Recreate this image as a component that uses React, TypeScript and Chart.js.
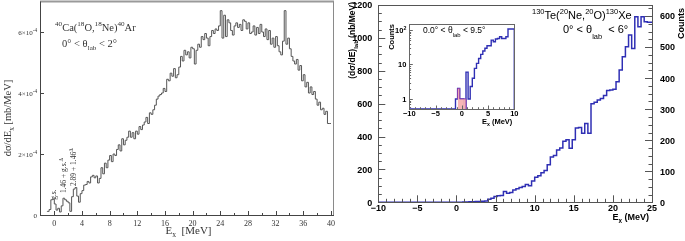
import React, { useEffect, useRef } from 'react';
import { Chart, registerables } from 'chart.js';

Chart.register(...registerables);

// ---------------- DATA ----------------
// Left panel: 40Ca(18O,18Ne)40Ar, values in units of 1e-4 mb/MeV, 0.25 MeV bins from -1 MeV
const leftBinStart = -1;
const leftBinWidth = 0.25;
const leftValues = [
  0.10, 0.12, 0.18, 0.50, 0.52, 0.36, 0.16, 0.22,
  0.10, 0.30, 0.55, 0.50, 0.45, 0.40, 0.12, 0.60,
  0.85, 0.90, 0.62, 0.42, 0.70, 0.80, 0.98, 1.00,
  1.10, 1.05, 1.25, 1.30, 1.22, 1.28, 1.05, 1.20,
  1.55, 1.35, 1.70, 1.55, 1.80, 1.95, 1.75, 2.00,
  1.95, 2.15, 2.30, 2.10, 2.50, 2.30, 2.45, 2.55,
  2.75, 2.55, 2.70, 2.50, 2.75, 2.65, 2.90, 2.80,
  2.95, 3.05, 3.20, 3.00, 3.35, 3.30, 3.45, 3.60,
  3.80, 3.90, 3.95, 4.00, 4.15, 4.05, 4.45, 4.40,
  4.65, 4.55, 4.80, 4.50, 4.60, 4.85, 5.20, 5.05,
  5.40, 5.25, 5.35, 5.15, 5.50, 5.45, 4.95, 5.40,
  5.60, 5.50, 5.85, 5.75, 5.95, 5.80, 5.55, 5.85,
  6.05, 5.95, 6.10, 6.05, 6.20, 6.70, 5.80, 6.55,
  5.85, 6.40, 6.30, 6.05, 5.90, 6.20, 6.30, 6.15,
  6.25, 6.05, 6.40, 6.35, 6.10, 6.30, 5.95, 6.00,
  6.20, 5.90, 6.15, 5.95, 6.25, 6.00, 5.85, 6.10,
  5.75, 6.05, 5.60, 5.80, 5.50, 5.85, 5.55, 5.35,
  5.25, 5.70, 6.70, 5.60, 5.80, 5.45, 5.20, 5.05,
  4.95, 5.10, 4.75, 4.90, 4.40, 4.60, 4.20, 4.35,
  4.00, 4.20, 3.95, 4.05, 3.80, 3.60, 3.70, 3.45,
  3.50, 3.30, 3.40, 3.00,
];
const leftXTicks = [0, 4, 8, 12, 16, 20, 24, 28, 32, 36, 40];
const leftYTicks = [0, 2, 4, 6];

// Right panel: 130Te(20Ne,20O)130Xe, nb/MeV, 0.4 MeV bins from -10 MeV
const rightBinStart = -10;
const rightBinWidth = 0.4;
const rightValues = [
  0, 0, 0, 0, 0, 0, 0, 0, 0, 0, 0, 0, 0, 0, 0, 0, 0, 0, 0, 0, 0, 0, 0, 0, 0,
  1, 1, 1, 2, 2, 4, 4, 5, 5, 6,
  8, 18, 24, 35, 40, 42, 66, 55, 60, 75,
  82, 90, 96, 108, 100, 130, 152, 162, 180, 193,
  228, 275, 285, 318, 330, 372, 380, 328, 380, 452,
  455, 420, 480, 420, 600, 608, 622, 632, 650, 680,
  683, 688, 733, 804, 885, 946, 1017, 936, 1128, 1067,
  1128, 1098, 1095,
];
const rightXTicks = [-10, -5, 0, 5, 10, 15, 20, 25];
const rightYTicks = [0, 200, 400, 600, 800, 1000, 1200];
const rightCountTicks = [0, 100, 200, 300, 400, 500, 600];

// Inset: counts, 0.4 MeV bins from -10 MeV
const insetBinStart = -10;
const insetBinWidth = 0.4;
const insetCounts = [
  0, 0, 0, 0, 0, 0, 0, 0, 0, 0, 0, 0, 0, 0, 0, 0, 0, 0, 0, 0, 0, 0, 0,
  1, 2, 1, 1, 0,
  6, 1, 2.3, 4, 7.7, 10.8, 15, 19.7, 24.6, 29.5, 35,
  35, 51, 46, 55, 57, 64, 57, 57, 64, 107, 107,
];
const insetGsStart = -0.8;
const insetGsCounts = [1, 2, 1, 1];
const insetXTicks = [-10, -5, 0, 5, 10];
const insetYTicks = [1, 10, 100];
const insetYTickLabels: [string, string][] = [['1', ''], ['10', ''], ['10', '2']];

// ---------------- HELPERS ----------------
const SERIF = '"Liberation Serif", "DejaVu Serif", serif';
const SANS = '"Liberation Sans", Arial, Helvetica, sans-serif';

function histPoints(start: number, width: number, values: number[], floor = 0, close = false) {
  const pts = values.map((v, i) => ({ x: start + i * width, y: Math.max(v, floor) }));
  pts.push({ x: start + values.length * width, y: Math.max(values[values.length - 1], floor) });
  if (close) pts.push({ x: start + values.length * width, y: floor });
  return pts;
}

type Seg = [string, ('sup' | 'sub' | '')?];
interface RichOpt {
  size: number;
  family: string;
  weight?: string;
  align?: 'left' | 'center' | 'right';
  color?: string;
  subDy?: number;
  supDy?: number;
  scale?: number;
}
function drawRich(ctx: CanvasRenderingContext2D, segs: Seg[], x: number, y: number, o: RichOpt) {
  const w = o.weight || 'normal';
  const sc = o.scale ?? 0.7;
  const fontFor = (k?: string) => `${w} ${k ? o.size * sc : o.size}px ${o.family}`;
  let total = 0;
  for (const [t, k] of segs) {
    ctx.font = fontFor(k);
    total += ctx.measureText(t).width;
  }
  const align = o.align || 'left';
  let cx = align === 'center' ? x - total / 2 : align === 'right' ? x - total : x;
  ctx.fillStyle = o.color || '#000';
  ctx.textAlign = 'left';
  ctx.textBaseline = 'alphabetic';
  for (const [t, k] of segs) {
    ctx.font = fontFor(k);
    const dy = k === 'sup' ? -(o.supDy ?? o.size * 0.42) : k === 'sub' ? (o.subDy ?? o.size * 0.3) : 0;
    ctx.fillText(t, cx, y + dy);
    cx += ctx.measureText(t).width;
  }
}
function drawRichRot(ctx: CanvasRenderingContext2D, segs: Seg[], x: number, y: number, o: RichOpt) {
  ctx.save();
  ctx.translate(x, y);
  ctx.rotate(-Math.PI / 2);
  drawRich(ctx, segs, 0, 0, o);
  ctx.restore();
}
function line(ctx: CanvasRenderingContext2D, x1: number, y1: number, x2: number, y2: number) {
  ctx.beginPath();
  ctx.moveTo(x1, y1);
  ctx.lineTo(x2, y2);
  ctx.stroke();
}
const crisp = (v: number) => Math.round(v) + 0.5;

// ---------------- LEFT CHART ----------------
const leftDecor = {
  id: 'leftDecor',
  afterDraw(chart: any) {
    const { ctx, chartArea: a } = chart;
    const x = chart.scales.x;
    const y = chart.scales.y;
    ctx.save();
    // frame
    ctx.strokeStyle = '#9a9a9a';
    ctx.lineWidth = 2;
    line(ctx, a.left, a.top, a.right + 1, a.top);
    ctx.strokeStyle = '#8a8a8a';
    ctx.lineWidth = 1;
    line(ctx, crisp(a.right), a.top, crisp(a.right), a.bottom);
    ctx.strokeStyle = '#444';
    line(ctx, crisp(a.left), a.top, crisp(a.left), a.bottom + 1);
    line(ctx, a.left, crisp(a.bottom), a.right + 1, crisp(a.bottom));
    // ticks
    for (const v of leftXTicks) {
      const px = crisp(x.getPixelForValue(v));
      line(ctx, px, a.bottom, px, a.bottom - 4);
    }
    for (let v = 2; v < 40; v += 4) {
      const px = crisp(x.getPixelForValue(v));
      line(ctx, px, a.bottom, px, a.bottom - 2);
    }
    for (const v of leftYTicks) {
      const py = crisp(y.getPixelForValue(v));
      line(ctx, a.left, py, a.left + 4, py);
    }
    // tick labels
    const col = '#333';
    for (const v of leftXTicks) {
      drawRich(ctx, [[String(v)]], x.getPixelForValue(v), a.bottom + 10.5, { size: 8, family: SERIF, align: 'center', color: col });
    }
    for (const v of leftYTicks) {
      const py = y.getPixelForValue(v);
      const segs: Seg[] = v === 0 ? [['0']] : [[`${v}×10`], ['-4', 'sup']];
      drawRich(ctx, segs, a.left - 3, py + 2.5, { size: 7, family: SERIF, align: 'right', color: col, scale: 0.75 });
    }
    // axis titles
    drawRich(ctx, [['E'], ['x', 'sub'], ['  [MeV]']], (a.left + a.right) / 2 + 2, 234, { size: 11, family: SERIF, align: 'center', color: col });
    drawRichRot(ctx, [['dσ/dE'], ['x', 'sub'], [' [mb/MeV]']], 11, 118, { size: 10.5, family: SERIF, align: 'center', color: col });
    // reaction labels
    drawRich(ctx, [['40', 'sup'], ['Ca('], ['18', 'sup'], ['O,'], ['18', 'sup'], ['Ne)'], ['40', 'sup'], ['Ar']], 55, 30.5, { size: 10.5, family: SERIF, color: col, scale: 0.68 });
    drawRich(ctx, [['0° < θ'], ['lab', 'sub'], [' < 2°']], 62, 46.5, { size: 10.5, family: SERIF, color: col, scale: 0.68, subDy: 3 });
    // peak annotations
    drawRichRot(ctx, [['g.s.']], x.getPixelForValue(0.2), y.getPixelForValue(0.5), { size: 7.5, family: SERIF, color: col });
    drawRichRot(ctx, [['1.46 + g.s.'], ['Δ', 'sup']], x.getPixelForValue(1.65), y.getPixelForValue(0.72), { size: 7.5, family: SERIF, color: col });
    drawRichRot(ctx, [['2.89 + 1.46'], ['Δ', 'sup']], x.getPixelForValue(3.1), y.getPixelForValue(0.95), { size: 7.5, family: SERIF, color: col });
    ctx.restore();
  },
};

function makeLeft(canvas: HTMLCanvasElement) {
  return new Chart(canvas, {
    type: 'line',
    data: {
      datasets: [
        {
          data: histPoints(leftBinStart, leftBinWidth, leftValues),
          stepped: 'after',
          borderColor: '#555555',
          borderWidth: 1,
          pointRadius: 0,
          fill: false,
        } as any,
      ],
    },
    options: {
      animation: false,
      responsive: false,
      maintainAspectRatio: false,
      events: [],
      layout: { padding: { left: 40, right: 12, top: 1.5, bottom: 26 } },
      plugins: { legend: { display: false }, tooltip: { enabled: false } },
      scales: {
        x: { type: 'linear', display: false, min: -2.07, max: 40.3 },
        y: { type: 'linear', display: false, min: 0, max: 7 },
      },
    },
    plugins: [leftDecor],
  });
}

// ---------------- RIGHT CHART ----------------
const rightDecor = {
  id: 'rightDecor',
  afterDraw(chart: any) {
    const { ctx, chartArea: a } = chart;
    const x = chart.scales.x;
    const y = chart.scales.y;
    const y2 = chart.scales.y2;
    ctx.save();
    ctx.strokeStyle = '#555';
    ctx.lineWidth = 1;
    ctx.strokeRect(crisp(a.left), crisp(a.top), Math.round(a.right - a.left), Math.round(a.bottom - a.top));
    // x ticks
    for (let v = -10; v <= 25; v += 1) {
      const px = crisp(x.getPixelForValue(v));
      const major = v % 5 === 0;
      line(ctx, px, a.bottom, px, a.bottom - (major ? 7 : 3.5));
    }
    // left y ticks
    for (let v = 0; v <= 1200; v += 50) {
      const py = crisp(y.getPixelForValue(v));
      const major = v % 200 === 0;
      line(ctx, a.left, py, a.left + (major ? 7 : 3.5), py);
    }
    // right counts ticks
    for (let v = 0; v <= 625; v += 25) {
      const py = crisp(y2.getPixelForValue(v));
      const major = v % 100 === 0;
      line(ctx, a.right, py, a.right - (major ? 7 : 3.5), py);
    }
    const bold = { size: 9, family: SANS, weight: 'bold', color: '#000' };
    for (const v of rightXTicks) {
      drawRich(ctx, [[v < 0 ? `−${-v}` : String(v)]], x.getPixelForValue(v), 210.5, { ...bold, align: 'center' });
    }
    for (const v of rightYTicks) {
      drawRich(ctx, [[String(v)]], a.left - 6, y.getPixelForValue(v) + 3.3, { ...bold, align: 'right' });
    }
    for (const v of rightCountTicks) {
      drawRich(ctx, [[String(v)]], a.right + 8, y2.getPixelForValue(v) + 3.3, { ...bold, align: 'left' });
    }
    // axis titles
    drawRich(ctx, [['E'], ['x', 'sub'], [' (MeV)']], a.right - 3, 220, { ...bold, align: 'right', scale: 0.7 });
    drawRichRot(ctx, [['(dσ/dE)'], ['lab', 'sub'], [' (nb/MeV)']], 10.3, 2, { size: 8.5, family: SANS, weight: 'bold', color: '#000', align: 'right', subDy: 2.5 });
    drawRichRot(ctx, [['Counts']], 339, 8, { ...bold, align: 'right' });
    // reaction labels
    drawRich(ctx, [['130', 'sup'], ['Te('], ['20', 'sup'], ['Ne,'], ['20', 'sup'], ['O)'], ['130', 'sup'], ['Xe']], 187, 18.5, { size: 11, family: SANS, color: '#000', scale: 0.68 });
    drawRich(ctx, [['0° < θ'], ['lab', 'sub'], ['  < 6°']], 218, 33, { size: 11, family: SANS, color: '#000', scale: 0.68, subDy: 6 });
    ctx.restore();
  },
};

function makeRight(canvas: HTMLCanvasElement) {
  return new Chart(canvas, {
    type: 'line',
    data: {
      datasets: [
        {
          data: histPoints(rightBinStart, rightBinWidth, rightValues),
          stepped: 'after',
          borderColor: '#2f2fb4',
          borderWidth: 1.5,
          pointRadius: 0,
          fill: false,
        } as any,
      ],
    },
    options: {
      animation: false,
      responsive: false,
      maintainAspectRatio: false,
      events: [],
      layout: { padding: { left: 33.3, right: 33, top: 5, bottom: 38.7 } },
      plugins: { legend: { display: false }, tooltip: { enabled: false } },
      scales: {
        x: { type: 'linear', display: false, min: -10, max: 25 },
        y: { type: 'linear', display: false, min: 0, max: 1200 },
        y2: { type: 'linear', display: false, min: 0, max: 636, position: 'right' },
      },
    },
    plugins: [rightDecor],
  });
}

// ---------------- INSET ----------------
const insetYMin = 0.51;
const insetDecor = {
  id: 'insetDecor',
  beforeDraw(chart: any) {
    const { ctx, chartArea: a } = chart;
    ctx.save();
    ctx.fillStyle = '#fff';
    ctx.fillRect(a.left, a.top, a.right - a.left, a.bottom - a.top);
    ctx.restore();
  },
  afterDraw(chart: any) {
    const { ctx, chartArea: a } = chart;
    const x = chart.scales.x;
    const y = chart.scales.y;
    ctx.save();
    ctx.strokeStyle = '#666';
    ctx.lineWidth = 1;
    ctx.strokeRect(crisp(a.left), crisp(a.top), Math.round(a.right - a.left), Math.round(a.bottom - a.top));
    for (let v = -10; v <= 10; v += 1) {
      const px = crisp(x.getPixelForValue(v));
      const major = v % 5 === 0;
      line(ctx, px, a.bottom, px, a.bottom - (major ? 3.5 : 1.8));
    }
    for (const dec of [0.1, 1, 10, 100]) {
      for (let m = 1; m <= 9; m++) {
        const v = dec * m;
        if (v < insetYMin || v > 150) continue;
        const py = crisp(y.getPixelForValue(v));
        line(ctx, a.left, py, a.left + (m === 1 ? 3.5 : 1.8), py);
      }
    }
    const bold = { size: 7.5, family: SANS, weight: 'bold', color: '#000' };
    for (const v of insetXTicks) {
      drawRich(ctx, [[v < 0 ? `−${-v}` : String(v)]], x.getPixelForValue(v), 96, { ...bold, align: 'center' });
    }
    insetYTicks.forEach((v, i) => {
      const [base, sup] = insetYTickLabels[i];
      const segs: Seg[] = sup ? [[base], [sup, 'sup']] : [[base]];
      drawRich(ctx, segs, a.left - 3, y.getPixelForValue(v) + 2.7, { ...bold, align: 'right' });
    });
    drawRich(ctx, [['E'], ['x', 'sub'], [' (MeV)']], a.right - 2, 104, { ...bold, align: 'right' });
    drawRichRot(ctx, [['Counts']], 9, 4, { ...bold, align: 'right' });
    drawRich(ctx, [['0.0° < θ'], ['lab', 'sub'], [' < 9.5°']], 38, 13, { size: 8.5, family: SANS, color: '#000', scale: 0.7, subDy: 3.5 });
    ctx.restore();
  },
};

function makeInset(canvas: HTMLCanvasElement) {
  return new Chart(canvas, {
    type: 'line',
    data: {
      datasets: [
        {
          data: histPoints(insetGsStart, insetBinWidth, insetGsCounts, insetYMin, true),
          stepped: 'after',
          borderColor: 'rgba(150,60,170,0.9)',
          backgroundColor: 'rgba(246,178,178,0.95)',
          borderWidth: 1,
          pointRadius: 0,
          fill: 'start',
        } as any,
        {
          data: histPoints(insetBinStart, insetBinWidth, insetCounts, insetYMin, true),
          stepped: 'after',
          borderColor: '#2f2fb4',
          borderWidth: 1.4,
          pointRadius: 0,
          fill: false,
        } as any,
      ],
    },
    options: {
      animation: false,
      responsive: false,
      maintainAspectRatio: false,
      events: [],
      layout: { padding: { left: 24.3, right: 5.7, top: 4, bottom: 19 } },
      plugins: { legend: { display: false }, tooltip: { enabled: false } },
      scales: {
        x: { type: 'linear', display: false, min: -10, max: 10 },
        y: { type: 'logarithmic', display: false, min: insetYMin, max: 150 },
      },
    },
    plugins: [insetDecor],
  });
}

// ---------------- APP ----------------
export default function App() {
  const leftRef = useRef<HTMLCanvasElement>(null);
  const rightRef = useRef<HTMLCanvasElement>(null);
  const insetRef = useRef<HTMLCanvasElement>(null);
  useEffect(() => {
    const charts: Chart[] = [];
    if (leftRef.current) charts.push(makeLeft(leftRef.current));
    if (rightRef.current) charts.push(makeRight(rightRef.current));
    if (insetRef.current) charts.push(makeInset(insetRef.current));
    return () => charts.forEach((c) => c.destroy());
  }, []);
  return (
    <div style={{ position: 'fixed', left: 0, top: 0, width: 685, height: 241, background: '#fff', overflow: 'hidden' }}>
      <canvas ref={leftRef} width={345} height={241} style={{ position: 'absolute', left: 0, top: 0, width: 345, height: 241 }} />
      <canvas ref={rightRef} width={340} height={241} style={{ position: 'absolute', left: 345, top: 0, width: 340, height: 241 }} />
      <canvas ref={insetRef} width={135} height={108} style={{ position: 'absolute', left: 385, top: 20, width: 135, height: 108 }} />
    </div>
  );
}
